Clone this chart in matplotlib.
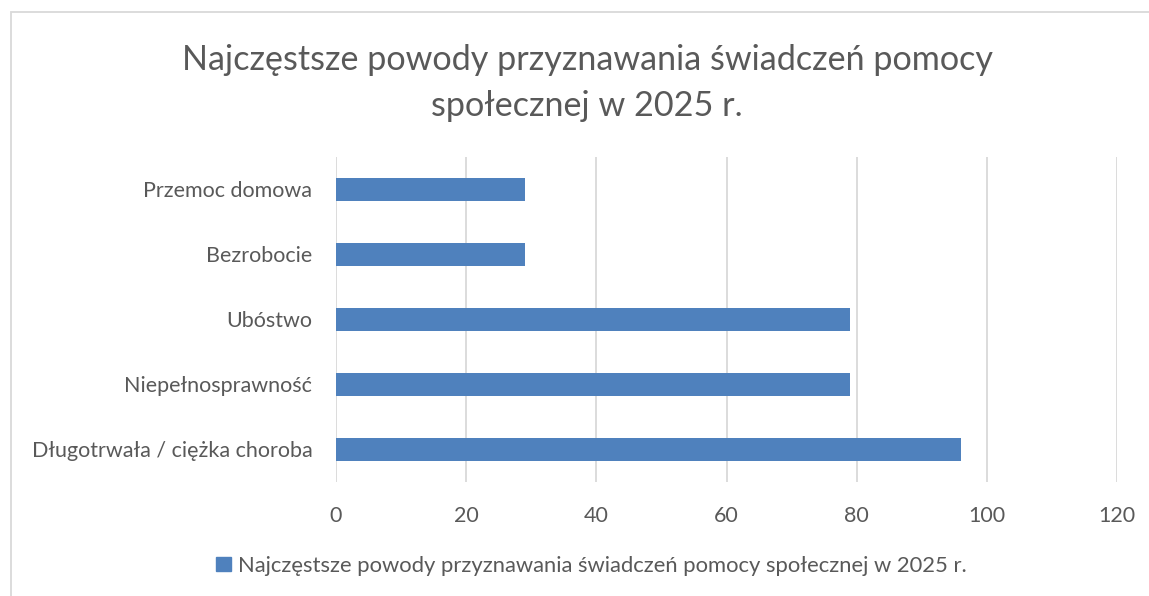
import matplotlib
matplotlib.use("Agg")
import matplotlib.pyplot as plt
from matplotlib.patches import Rectangle, Patch

plt.rcParams['font.family'] = ['Lato', 'DejaVu Sans']

categories = ["Przemoc domowa", "Bezrobocie", "Ubóstwo", "Niepełnosprawność",
              "Długotrwała / ciężka choroba"]
values = [29, 29, 79, 79, 96]
xticks = [0, 20, 40, 60, 80, 100, 120]
title = "Najczęstsze powody przyznawania świadczeń pomocy\nspołecznej w 2025 r."
series_name = "Najczęstsze powody przyznawania świadczeń pomocy społecznej w 2025 r."

bar_color = '#4F81BD'
text_color = '#595959'
grid_color = '#D9D9D9'

fig = plt.figure(figsize=(11.49, 5.96), dpi=100)
ax = fig.add_axes([0.2924, 0.1913, 0.6798, 0.5453])

# reverse so the first category sits on top
ypos = list(range(len(categories)))[::-1]
ax.barh(ypos, values, height=0.35, color=bar_color, zorder=3)

ax.set_xlim(0, 120)
ax.set_ylim(-0.5, len(categories) - 0.5)
ax.set_xticks(xticks)
ax.set_xticklabels([str(t) for t in xticks])
ax.set_yticks(ypos)
ax.set_yticklabels(categories)
ax.tick_params(axis='both', length=0, labelsize=15.5, colors=text_color)
ax.tick_params(axis='x', pad=17)
ax.tick_params(axis='y', pad=17)
ax.grid(axis='x', color=grid_color, linewidth=1.3, zorder=0)
for s in ax.spines.values():
    s.set_visible(False)

fig.text(0.511, 0.861, title, ha='center', va='center', fontsize=24.6,
         color=text_color, linespacing=1.55)

fig.legend(handles=[Patch(color=bar_color, label=series_name)],
           loc='center', bbox_to_anchor=(0.515, 0.051), frameon=False,
           fontsize=15.8, labelcolor=text_color, handlelength=0.65,
           handleheight=0.65, handletextpad=0.35)

# chart area border (cropped on right/bottom)
fig.patches.append(Rectangle((11 / 1149, -0.1), 1.2, 1 - 12 / 596 + 0.1,
                             transform=fig.transFigure, fill=False,
                             edgecolor='#D9D9D9', linewidth=1.3))

fig.savefig('out.png', dpi=100)
